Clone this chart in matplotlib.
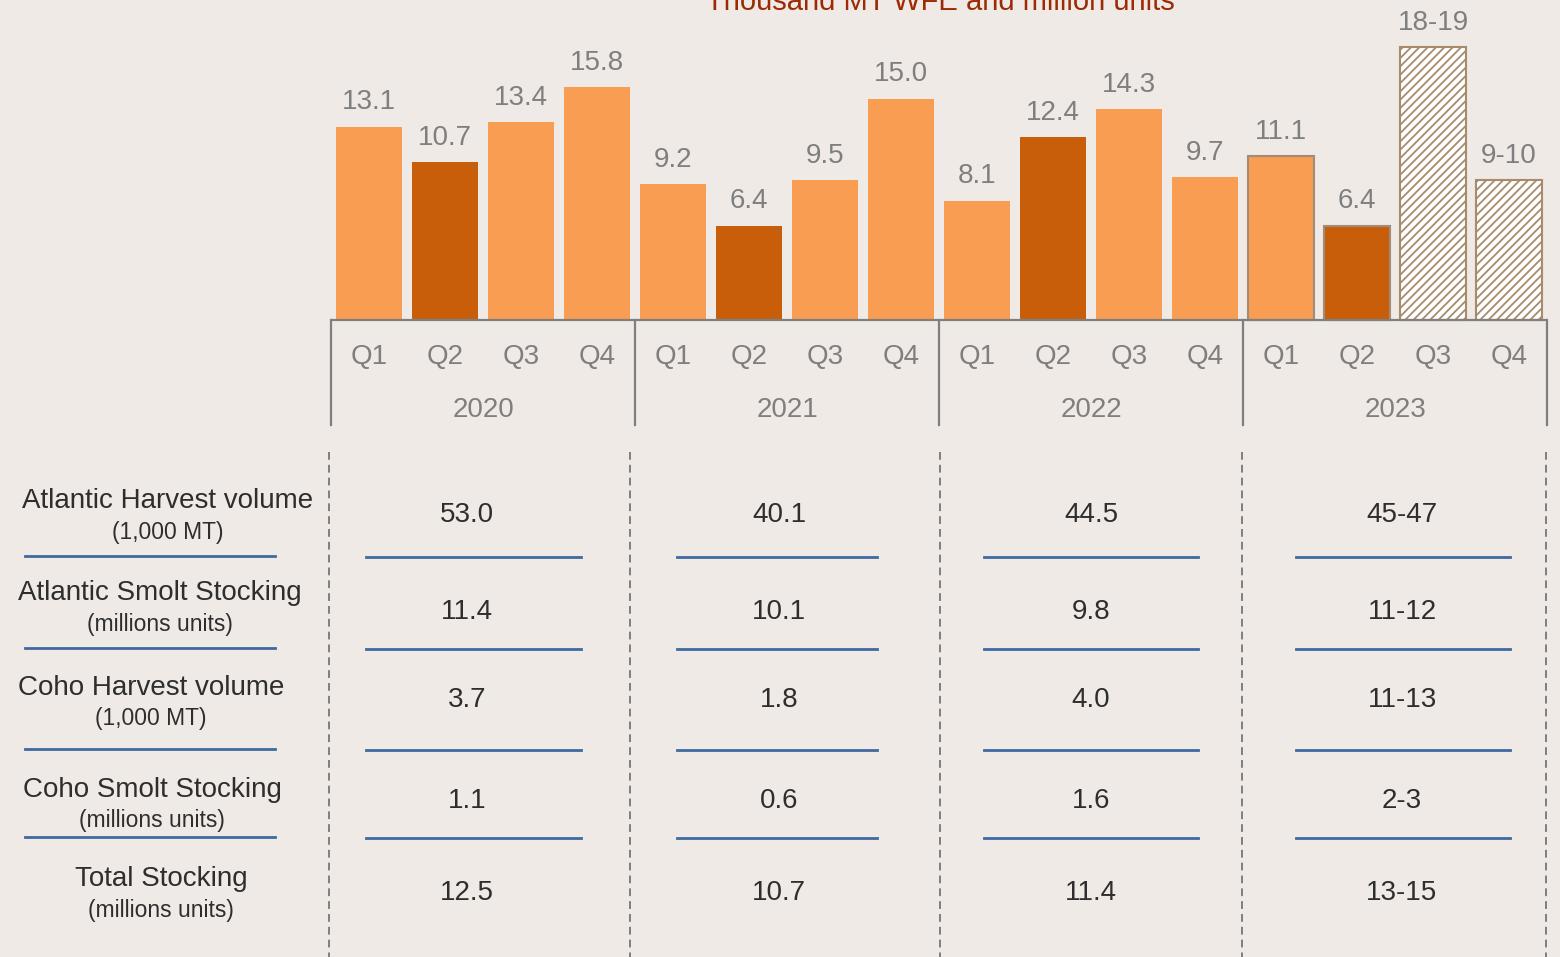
import matplotlib.pyplot as plt

plt.rcParams['font.family'] = ['Liberation Sans', 'DejaVu Sans']
plt.rcParams['hatch.linewidth'] = 1.3

# bar data: quarterly harvest, thousand MT WFE
years = ['2020', '2021', '2022', '2023']
quarters = ['Q1', 'Q2', 'Q3', 'Q4']
harvest = [13.1, 10.7, 13.4, 15.8,
           9.2, 6.4, 9.5, 15.0,
           8.1, 12.4, 14.3, 9.7,
           11.1, 6.4, 18.5, 9.5]
harvest_labels = ['13.1', '10.7', '13.4', '15.8',
                  '9.2', '6.4', '9.5', '15.0',
                  '8.1', '12.4', '14.3', '9.7',
                  '11.1', '6.4', '18-19', '9-10']
guidance = [False] * 14 + [True, True]

# table data
row_titles = ['Atlantic Harvest volume', 'Atlantic Smolt Stocking',
              'Coho Harvest volume', 'Coho Smolt Stocking', 'Total Stocking']
row_units = ['(1,000 MT)', '(millions units)', '(1,000 MT)',
             '(millions units)', '(millions units)']
atlantic_harvest = ['53.0', '40.1', '44.5', '45-47']
atlantic_smolt = ['11.4', '10.1', '9.8', '11-12']
coho_harvest = ['3.7', '1.8', '4.0', '11-13']
coho_smolt = ['1.1', '0.6', '1.6', '2-3']
total_stocking = ['12.5', '10.7', '11.4', '13-15']
table_rows = [atlantic_harvest, atlantic_smolt, coho_harvest, coho_smolt, total_stocking]

bg = '#EFEAE6'
light = '#F99D52'
dark = '#C85E0A'
grey = '#7F7F7F'
txt = '#2E2E2E'
blue = '#3F6AA0'

W, H = 1560, 957
fig = plt.figure(figsize=(15.6, 9.57), dpi=100, facecolor=bg)

# bar chart axes, 14.75 px per unit
px = 14.75
top_px, base_px, bot_px = 0, 320, 425
left_px, right_px = 331, 1547
ax = fig.add_axes([left_px / W, 1 - bot_px / H, (right_px - left_px) / W, (bot_px - top_px) / H])
ax.set_facecolor('none')
ax.set_xlim(-0.5, len(harvest) - 0.5)
ax.set_ylim(-(bot_px - base_px) / px, (base_px - top_px) / px)
ax.axis('off')

for i, (v, lab, g) in enumerate(zip(harvest, harvest_labels, guidance)):
    yi = i // 4
    q = i % 4
    if g:
        ax.bar(i, v, width=0.88, color='white', edgecolor='#A88B6A', hatch='////', linewidth=1.5, zorder=2)
    else:
        col = dark if q == 1 else light
        ec = '#A08C78' if yi == 3 else col
        ax.bar(i, v, width=0.88, color=col, edgecolor=ec, linewidth=1.5 if yi == 3 else 0, zorder=2)
    ax.annotate(lab, (i, v), xytext=(0, 12.5), textcoords='offset points',
                ha='center', va='baseline', fontsize=20, color=grey)
    ax.text(i, -37 / px, quarters[q], ha='center', va='center', fontsize=20, color=grey)

ax.axhline(0, color=grey, lw=1.6, zorder=3)
for k in range(len(years) + 1):
    ax.plot([k * 4 - 0.5] * 2, [0, -(bot_px - base_px) / px], color=grey, lw=1.6, clip_on=False)
for k, yr in enumerate(years):
    ax.text(k * 4 + 1.5, -90 / px, yr, ha='center', va='center', fontsize=20, color=grey)

# overlay in pixel coordinates for title and table
ov = fig.add_axes([0, 0, 1, 1])
ov.set_xlim(0, W)
ov.set_ylim(H, 0)
ov.axis('off')
ov.set_facecolor('none')

ov.text(940, 10, 'Thousand MT WFE and million units', ha='center', va='baseline',
        fontsize=21, color='#9C2A04')

col_sep = [329, 630, 940, 1242, 1546]
for x in col_sep:
    ov.plot([x, x], [452, H], color=grey, lw=1.4, ls=(0, (4, 2.6)))

title_x = [168, 160, 151, 152, 161]
title_y = [501, 593, 688, 790, 879]
value_y = [515, 612, 700, 801, 893]
line_y = [557, 649, 750, 838]
col_x = [467, 779, 1091, 1402]
line_x0 = [366, 677, 984, 1296]
line_x1 = [581, 877, 1198, 1510]

for r in range(len(row_titles)):
    ov.text(title_x[r], title_y[r], row_titles[r], ha='center', va='center', fontsize=20, color=txt)
    ov.text(title_x[r], title_y[r] + 31, row_units[r], ha='center', va='center', fontsize=16.5, color=txt)
    for c, val in enumerate(table_rows[r]):
        ov.text(col_x[c], value_y[r], val, ha='center', va='center', fontsize=20, color=txt)
    if r < len(line_y):
        ov.plot([25, 275], [line_y[r] - 1] * 2, color=blue, lw=2)
        for c in range(len(col_x)):
            ov.plot([line_x0[c], line_x1[c]], [line_y[r]] * 2, color=blue, lw=2)

fig.savefig('out.png', dpi=100, facecolor=bg)
